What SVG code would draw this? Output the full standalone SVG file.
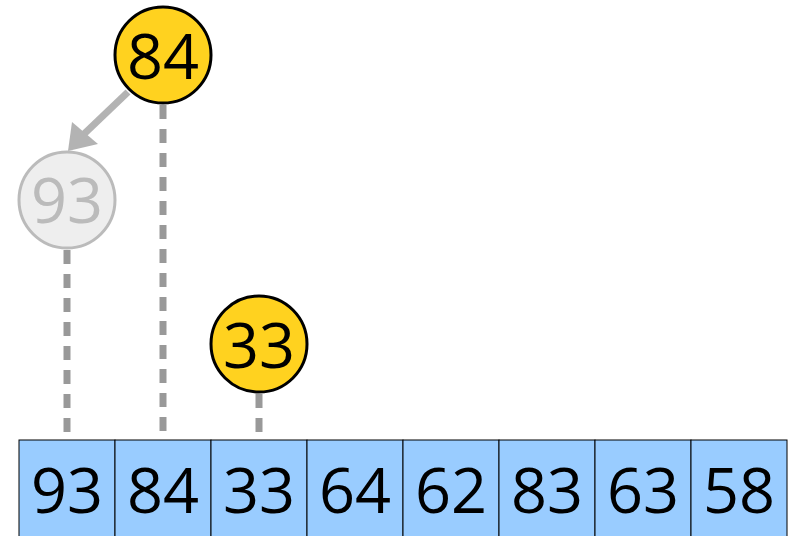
<svg xmlns="http://www.w3.org/2000/svg" width="793" height="536" viewBox="0 0 793 536">
<style>
.cell{fill:#99CCFF;stroke:#000;stroke-width:1}
.t{font-family:"Open Sans","Noto Sans",sans-serif;font-size:63px;text-anchor:middle;fill:#000}
.dash{stroke:#999;stroke-width:7;stroke-dasharray:14 10;fill:none}
.hot circle{fill:#FFD21F;stroke:#000;stroke-width:3}
.ghost circle{fill:#EEEEEE;stroke:#BBBBBB;stroke-width:3}
.ghost text{fill:#BBBBBB}
</style>
<g id="connectors">
<line class="dash" x1="67" y1="250" x2="67" y2="440"/>
<line class="dash" x1="163" y1="105" x2="163" y2="440"/>
<line class="dash" x1="259" y1="394" x2="259" y2="434"/>
<line x1="128" y1="92" x2="84" y2="134" stroke="#B3B3B3" stroke-width="7"/>
<path d="M68,151 L72,122 L98,144 Z" fill="#B3B3B3"/>
</g>
<g id="array">
<rect class="cell" x="19" y="440" width="96" height="100"/>
<rect class="cell" x="115" y="440" width="96" height="100"/>
<rect class="cell" x="211" y="440" width="96" height="100"/>
<rect class="cell" x="307" y="440" width="96" height="100"/>
<rect class="cell" x="403" y="440" width="96" height="100"/>
<rect class="cell" x="499" y="440" width="96" height="100"/>
<rect class="cell" x="595" y="440" width="96" height="100"/>
<rect class="cell" x="691" y="440" width="96" height="100"/>
<text class="t" x="67" y="513">93</text>
<text class="t" x="163" y="513">84</text>
<text class="t" x="259" y="513">33</text>
<text class="t" x="355" y="513">64</text>
<text class="t" x="451" y="513">62</text>
<text class="t" x="547" y="513">83</text>
<text class="t" x="643" y="513">63</text>
<text class="t" x="739" y="513">58</text>
</g>
<g id="node93" class="ghost">
<circle cx="67" cy="200" r="48"/>
<text class="t" x="67" y="223">93</text>
</g>
<g id="node84" class="hot">
<circle cx="163" cy="55" r="48"/>
<text class="t" x="163" y="79">84</text>
</g>
<g id="node33" class="hot">
<circle cx="259" cy="344" r="48"/>
<text class="t" x="259" y="368">33</text>
</g>
</svg>
